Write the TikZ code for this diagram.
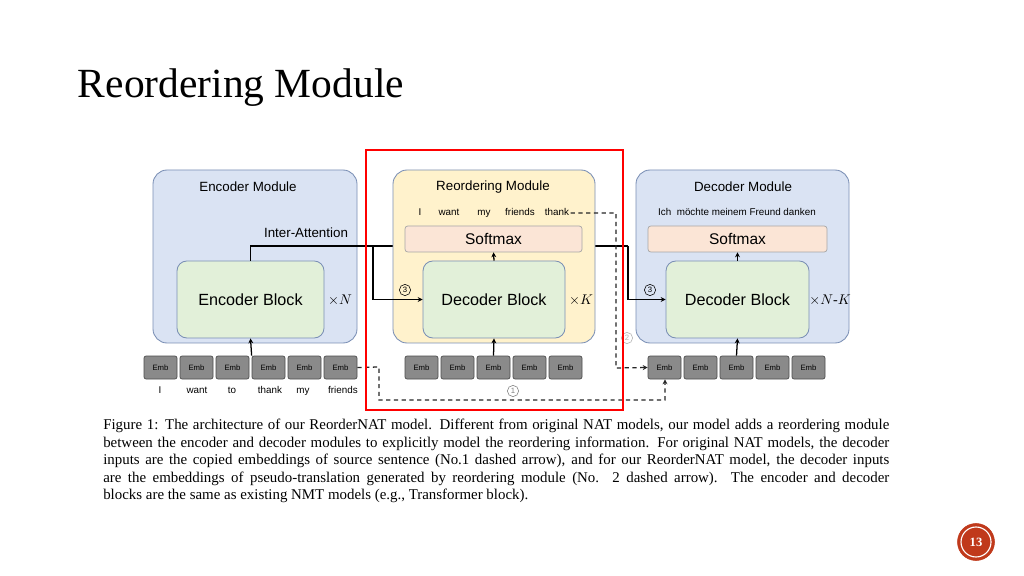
\documentclass[tikz,border=0pt]{standalone}
\usepackage{fontspec}
\setmainfont{Liberation Serif}
\newfontfamily\diag{Liberation Sans}
\usetikzlibrary{arrows.meta,positioning}
\definecolor{modblue}{HTML}{DAE3F3}
\definecolor{modyellow}{HTML}{FFF2CC}
\definecolor{blkgreen}{HTML}{E2F0D9}
\definecolor{smpink}{HTML}{FBE5D6}
\definecolor{edgeblue}{HTML}{7A8FB5}
\definecolor{embgray}{HTML}{8A8A8A}
\definecolor{badge}{HTML}{C0391B}
\tikzset{
  module/.style={draw=edgeblue, line width=0.6pt, rounded corners=10pt, fill=#1},
  block/.style={draw=edgeblue, line width=0.6pt, rounded corners=7pt, fill=blkgreen,
    font=\diag\fontsize{11.5}{13}\selectfont},
  softmax/.style={draw=gray!70, line width=0.5pt, rounded corners=2pt, fill=smpink,
    minimum width=#1*0.025cm, minimum height=26*0.025cm, font=\diag\fontsize{11}{13}\selectfont},
  emb/.style={draw=black!70, line width=0.5pt, rounded corners=1.5pt, fill=embgray,
    minimum width=33*0.025cm, minimum height=23*0.025cm, inner sep=0pt, font=\diag\fontsize{5.5}{6}\selectfont},
  label/.style={font=\diag\fontsize{9.5}{11}\selectfont},
  word/.style={font=\diag\fontsize{7}{8}\selectfont, inner sep=1pt, text height=5pt, text depth=1.5pt},
  times/.style={font=\fontsize{10}{12}\selectfont},
  circ/.style={circle, draw, line width=0.4pt, inner sep=0pt, minimum size=8pt,
    font=\diag\fontsize{5.5}{6}\selectfont},
  link/.style={draw=black, line width=0.9pt},
  arrow/.style={-{Stealth[length=3.5pt,width=3.5pt]}, draw=black, line width=0.9pt},
  dashed link/.style={draw=black!85, line width=0.9pt, dash pattern=on 3pt off 2.5pt}
}
\begin{document}
\begin{tikzpicture}[x=0.025cm, y=-0.025cm]
  \useasboundingbox (0,0) rectangle (1024,576);
  \fill[white] (0,0) rectangle (1024,576);
  % slide title
  \node[anchor=west, font=\fontsize{29.5}{33}\selectfont] (title) at (73,88) {Reordering Module};

  % encoder module
  \node[module=modblue, minimum width=204*0.025cm, minimum height=173*0.025cm] (enc) at (255,256.5) {};
  \node[label] (enct) at (248,187) {Encoder Module};
  \node[block, minimum width=147*0.025cm, minimum height=77*0.025cm] (encb) at (250.5,299.5) {Encoder Block};
  \node[times] (encn) at (340,300) {$\times N$};
  \node[label] (inter) at (306,233) {Inter-Attention};

  % inter-attention line (runs behind the reordering module)
  \coordinate (ia1) at (250.5,246);
  \coordinate (ia2) at (373,246);
  \coordinate (ia3) at (628,246);
  \draw[link] (encb.north) -- (ia1) -- (ia3);

  % reordering module
  \node[module=modyellow, minimum width=202*0.025cm, minimum height=173*0.025cm] (reo) at (494,256.5) {};
  \node[label] (reot) at (493,187) {Reordering Module};
  \node[softmax=177] (rsm) at (493.5,239) {Softmax};
  \node[block, minimum width=142*0.025cm, minimum height=77*0.025cm] (rdb) at (494,299.5) {Decoder Block};
  \node[times] (reok) at (581,300) {$\times K$};
  \foreach \w/\x in {I/420, want/449, my/484, friends/520, thank/557}
    \node[word] (r-\w) at (\x,213) {\w};

  % decoder module
  \node[module=modblue, minimum width=213*0.025cm, minimum height=173*0.025cm] (dec) at (742.5,256.5) {};
  \node[label] (dect) at (743,187) {Decoder Module};
  \node[softmax=179] (dsm) at (737.5,239) {Softmax};
  \node[block, minimum width=143*0.025cm, minimum height=77*0.025cm] (ddb) at (737.5,299.5) {Decoder Block};
  \node[times] (decnk) at (830,300) {$\times N$-$K$};
  \node[word] (dwords) at (737,213) {Ich\ \ möchte meinem Freund danken};

  % embeddings
  \foreach \i in {1,...,6}
    \node[emb] (e\i) at ({144+16.5+36*(\i-1)},367.5) {Emb};
  \foreach \i in {1,...,5} {
    \node[emb] (r\i) at ({405+16.5+36*(\i-1)},367.5) {Emb};
    \node[emb] (d\i) at ({648+16.5+36*(\i-1)},367.5) {Emb};
  }
  \foreach \w/\x in {I/160, want/197, to/232, thank/270, my/303, friends/343}
    \node[word] (s-\w) at (\x,391) {\w};

  % solid connectors
  \draw[arrow] (e4.north west) -- (encb.south);
  \draw[arrow] (r3.north) -- (rdb.south);
  \draw[arrow] (rdb.north) -- (rsm.south);
  \draw[arrow] (d3.north) -- (ddb.south);
  \draw[arrow] (ddb.north) -- (dsm.south);
  \draw[arrow] (ia2) |- (rdb.west);
  \draw[arrow] (ia3) |- (ddb.west);
  \node[circ] (c3a) at (405,290) {3};
  \node[circ] (c3b) at (650,290) {3};

  % dashed connectors
  \coordinate (p1) at (616,213);
  \coordinate (p2) at (616,368);
  \draw[dashed link, -{Stealth[length=3.5pt,width=3.5pt]}] (r-thank.east) -- (p1) -- (p2) -- (d1.west);
  \coordinate (q1) at (379,367);
  \coordinate (q2) at (379,400);
  \coordinate (q3) at (665,400);
  \draw[dashed link, -{Stealth[length=3.5pt,width=3.5pt]}] (e6.east) -- (q1) -- (q2) -- (q3) -- (d1.south -| q3);
  \node[circ, draw=gray!60, text=gray!60] (c2) at (627,338) {2};
  \node[circ, draw=gray, text=gray] (c1) at (513,391) {1};

  % highlight
  \draw[red, line width=2pt] (366,150) rectangle (623,410);

  % caption
  \node[anchor=north west, inner sep=0pt, text width=559pt, align=justify,
        font=\fontsize{10.6}{12.4}\selectfont] (caption) at (103,419)
  {Figure 1: The architecture of our ReorderNAT model. Different from original NAT models, our model adds a reordering module\linebreak
  between the encoder and decoder modules to explicitly model the reordering information. For original NAT models, the decoder\linebreak
  inputs are the copied embeddings of source sentence (No.1 dashed arrow), and for our ReorderNAT model, the decoder inputs\linebreak
  are the embeddings of pseudo-translation generated by reordering module (No. 2 dashed arrow). The encoder and decoder\linebreak
  blocks are the same as existing NMT models (e.g., Transformer block).};

  % page badge
  \node[circle, fill=badge, draw=badge, minimum size=37*0.025cm, inner sep=0pt] (badge) at (976,542) {};
  \node[circle, draw=white, line width=0.8pt, minimum size=30*0.025cm, text=white,
        font=\bfseries\fontsize{9}{10}\selectfont] (page) at (976,542) {13};
\end{tikzpicture}
\end{document}
